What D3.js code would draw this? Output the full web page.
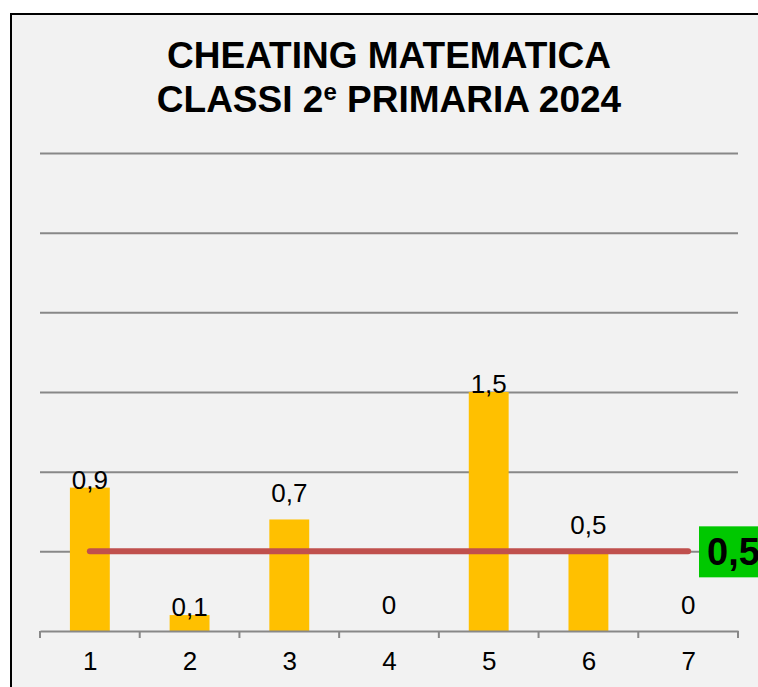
<!DOCTYPE html>
<html>
<head>
<meta charset="utf-8">
<script src="https://cdn.jsdelivr.net/npm/d3@7"></script>
<style>
  body { margin: 0; background: #fff; }
  svg { display: block; font-family: "Liberation Sans", Arial, sans-serif; }
</style>
</head>
<body>
<div id="chart"></div>
<script>
//Data
const classes = ['1', '2', '3', '4', '5', '6', '7'];
const cheating = [0.9, 0.1, 0.7, 0, 1.5, 0.5, 0];
const average = 0.5;
const yTickValues = [0.5, 1, 1.5, 2, 2.5, 3];
const titleLines = ['CHEATING MATEMATICA', 'CLASSI 2', 'e', ' PRIMARIA 2024'];

//General config
const W = 758, H = 687;
const margin = {top: 153, right: 20, bottom: 56, left: 40};
const width = W - margin.left - margin.right;
const height = 478;
const fmt = v => String(v).replace('.', ',');
// labels that Excel left sitting on the bar top
const tightLabels = new Set(['1', '2', '5']);

const svg = d3.select('#chart').append('svg')
    .attr('width', W)
    .attr('height', H);

//Frame
svg.append('rect')
    .attr('x', 11).attr('y', 14)
    .attr('width', W).attr('height', H)
    .attr('fill', '#f2f2f2')
    .attr('stroke', '#000')
    .attr('stroke-width', 2);

//Title
const title = svg.append('text')
    .attr('text-anchor', 'middle')
    .attr('font-weight', 'bold')
    .attr('font-size', 37)
    .attr('fill', '#000');
title.append('tspan').attr('x', margin.left + width / 2).attr('y', 68).text(titleLines[0]);
const l2 = title.append('tspan').attr('x', margin.left + width / 2).attr('y', 112);
l2.append('tspan').text(titleLines[1]);
l2.append('tspan').attr('font-size', 24).attr('dy', -12).text(titleLines[2]);
l2.append('tspan').attr('dy', 12).text(titleLines[3]);

//Scales
const x = d3.scaleBand().domain(classes).range([0, width]).paddingInner(0.6).paddingOuter(0.3);
const xc = d3.scalePoint().domain(classes).range([0, width]).padding(0.5);
const y = d3.scaleLinear().domain([0, 3]).range([height, 0]);

const g = svg.append('g')
    .attr('transform', `translate(${margin.left}, ${margin.top})`);

//Grid lines
g.append('g')
    .call(d3.axisLeft(y).tickValues(yTickValues).tickSize(-width).tickFormat(''))
    .call(s => s.select('.domain').remove())
    .call(s => s.selectAll('line').attr('stroke', '#888').attr('stroke-width', 2));

//Bars
g.selectAll('.bar')
    .data(cheating)
    .enter()
    .append('rect')
    .attr('x', (d, i) => xc(classes[i]) - x.bandwidth() / 2)
    .attr('y', d => y(d))
    .attr('width', x.bandwidth())
    .attr('height', d => height - y(d))
    .attr('fill', '#ffc000');

//X axis
const xAxis = g.append('g')
    .attr('transform', `translate(0, ${height})`)
    .call(d3.axisBottom(xc).tickSize(0).tickPadding(21));
xAxis.select('.domain').attr('stroke', '#888').attr('stroke-width', 2);
xAxis.selectAll('text').attr('font-size', 26).attr('fill', '#000')
    .attr('font-family', '"Liberation Sans", Arial, sans-serif');
const step = width / classes.length;
xAxis.selectAll('.sep')
    .data(d3.range(classes.length + 1))
    .enter()
    .append('line')
    .attr('x1', i => i * step).attr('x2', i => i * step)
    .attr('y1', 0).attr('y2', 7)
    .attr('stroke', '#888').attr('stroke-width', 2);

//Average line
g.append('line')
    .attr('x1', xc(classes[0]))
    .attr('x2', xc(classes[classes.length - 1]))
    .attr('y1', y(average)).attr('y2', y(average))
    .attr('stroke', '#c0504d')
    .attr('stroke-width', 6)
    .attr('stroke-linecap', 'round');

//Value labels
g.selectAll('.val')
    .data(cheating)
    .enter()
    .append('text')
    .attr('x', (d, i) => xc(classes[i]))
    .attr('y', (d, i) => tightLabels.has(classes[i]) ? y(d) + 1 : y(d) - 17)
    .attr('text-anchor', 'middle')
    .attr('font-size', 26)
    .attr('fill', '#000')
    .text(d => fmt(d));

//Average badge
const bx = 699, by = margin.top + y(average) - 25;
svg.append('rect')
    .attr('x', bx).attr('y', by)
    .attr('width', 70).attr('height', 51)
    .attr('fill', '#00c800');
svg.append('text')
    .attr('x', bx + 8).attr('y', by + 39)
    .attr('font-size', 38)
    .attr('font-weight', 'bold')
    .attr('fill', '#000')
    .text(fmt(average));
</script>
</body>
</html>
